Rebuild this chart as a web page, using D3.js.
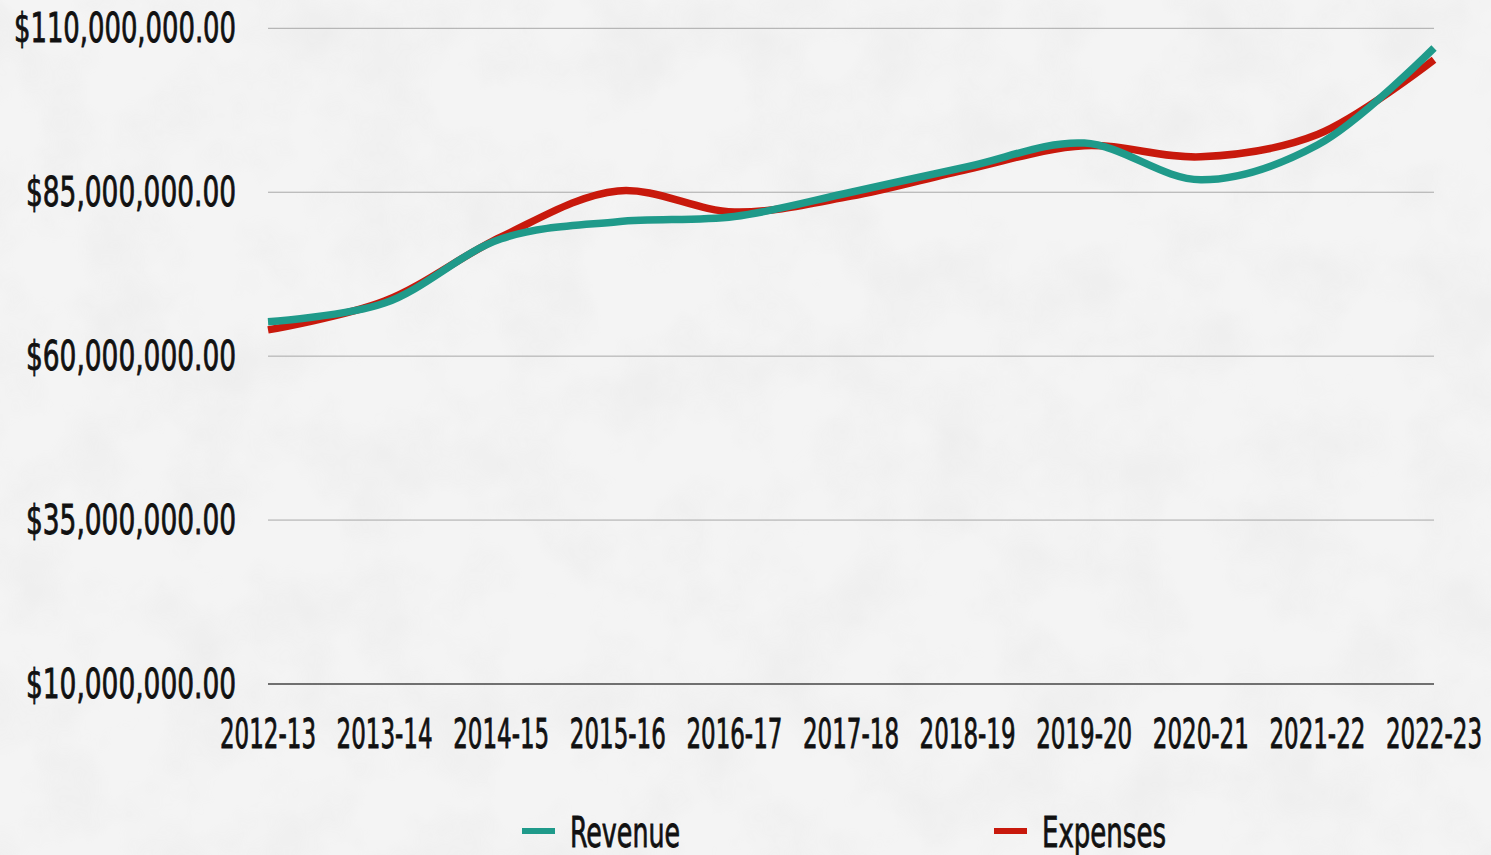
<!DOCTYPE html>
<html>
<head>
<meta charset="utf-8">
<script src="https://cdn.jsdelivr.net/npm/d3@7"></script>
<style>
  html, body { margin: 0; padding: 0; background: #f2f2f2; overflow: hidden; }
  svg { display: block; }
  text { font-family: "Liberation Sans Narrow", "DejaVu Sans Condensed", "Roboto", sans-serif; fill: #111; stroke: #111; stroke-width: 0.8px; }
</style>
</head>
<body>
<svg id="chart" width="1491" height="855"></svg>
<script>
const years = ['2012-13','2013-14','2014-15','2015-16','2016-17','2017-18','2018-19','2019-20','2020-21','2021-22','2022-23'];
const revenue  = [65.25, 68.1, 77.9, 80.5, 81.3, 85.0, 88.9, 92.5, 86.9, 92.2, 107.0]; // millions
const expenses = [64.0, 68.4, 78.2, 85.2, 82.0, 84.4, 88.5, 92.1, 90.4, 93.8, 105.2];
const yTicks = [10, 35, 60, 85, 110];
const seriesNames = ['Revenue', 'Expenses'];
const colors = ['#1f9a8a', '#c8190c'];

const W = 1491, H = 855;
const svg = d3.select('#chart');

// paper-ish background texture
const defs = svg.append('defs');
const f = defs.append('filter').attr('id', 'paper').attr('x', 0).attr('y', 0).attr('width', '100%').attr('height', '100%');
f.append('feTurbulence').attr('type', 'fractalNoise').attr('baseFrequency', 0.012).attr('numOctaves', 4).attr('seed', 7).attr('result', 'n');
f.append('feColorMatrix').attr('in', 'n').attr('type', 'matrix')
  .attr('values', '0 0 0 0 0.55  0 0 0 0 0.55  0 0 0 0 0.55  0 0 0 -0.9 0.55');
svg.append('rect').attr('width', W).attr('height', H).attr('fill', '#f4f4f4');
svg.append('rect').attr('width', W).attr('height', H).attr('filter', 'url(#paper)').attr('opacity', 0.28);

const x = d3.scalePoint().domain(years).range([268, 1434]);
const y = d3.scaleLinear().domain([10, 110]).range([684, 28.3]);

// gridlines
svg.append('g').selectAll('line')
  .data(yTicks)
  .join('line')
  .attr('x1', 268).attr('x2', 1434)
  .attr('y1', d => y(d)).attr('y2', d => y(d))
  .attr('stroke', d => d === 10 ? '#444' : '#a8a8a8')
  .attr('stroke-width', d => d === 10 ? 1.3 : 1);

const fmtMoney = d => '$' + d3.format(',.2f')(d * 1e6);

// y labels
svg.append('g').selectAll('text')
  .data(yTicks)
  .join('text')
  .attr('x', 236)
  .attr('y', d => y(d) + 14)
  .attr('text-anchor', 'end')
  .attr('font-size', 40)
  .attr('textLength', d => d >= 100 ? 222 : 210)
  .attr('lengthAdjust', 'spacingAndGlyphs')
  .text(fmtMoney);

// x labels
svg.append('g').selectAll('text')
  .data(years)
  .join('text')
  .attr('x', d => x(d))
  .attr('y', 748)
  .attr('text-anchor', 'middle')
  .attr('font-size', 40)
  .attr('textLength', 96)
  .attr('lengthAdjust', 'spacingAndGlyphs')
  .text(d => d);

// lines (expenses first, revenue on top)
const line = d3.line()
  .x((d, i) => x(years[i]))
  .y(d => y(d))
  .curve(d3.curveCatmullRom.alpha(0.5));

[[expenses, colors[1]], [revenue, colors[0]]].forEach(([s, c]) => {
  svg.append('path')
    .datum(s)
    .attr('d', line)
    .attr('fill', 'none')
    .attr('stroke', c)
    .attr('stroke-width', 7.5);
});

// legend
const legendX = [522, 994];
const lg = svg.append('g').selectAll('g')
  .data(seriesNames)
  .join('g')
  .attr('transform', (d, i) => `translate(${legendX[i]},831)`);
lg.append('line')
  .attr('x1', 0).attr('x2', 33)
  .attr('stroke', (d, i) => colors[i])
  .attr('stroke-width', 6);
lg.append('text')
  .attr('x', 48)
  .attr('y', 16)
  .attr('font-size', 42)
  .attr('textLength', (d, i) => i === 0 ? 110 : 124)
  .attr('lengthAdjust', 'spacingAndGlyphs')
  .text(d => d);
</script>
</body>
</html>
